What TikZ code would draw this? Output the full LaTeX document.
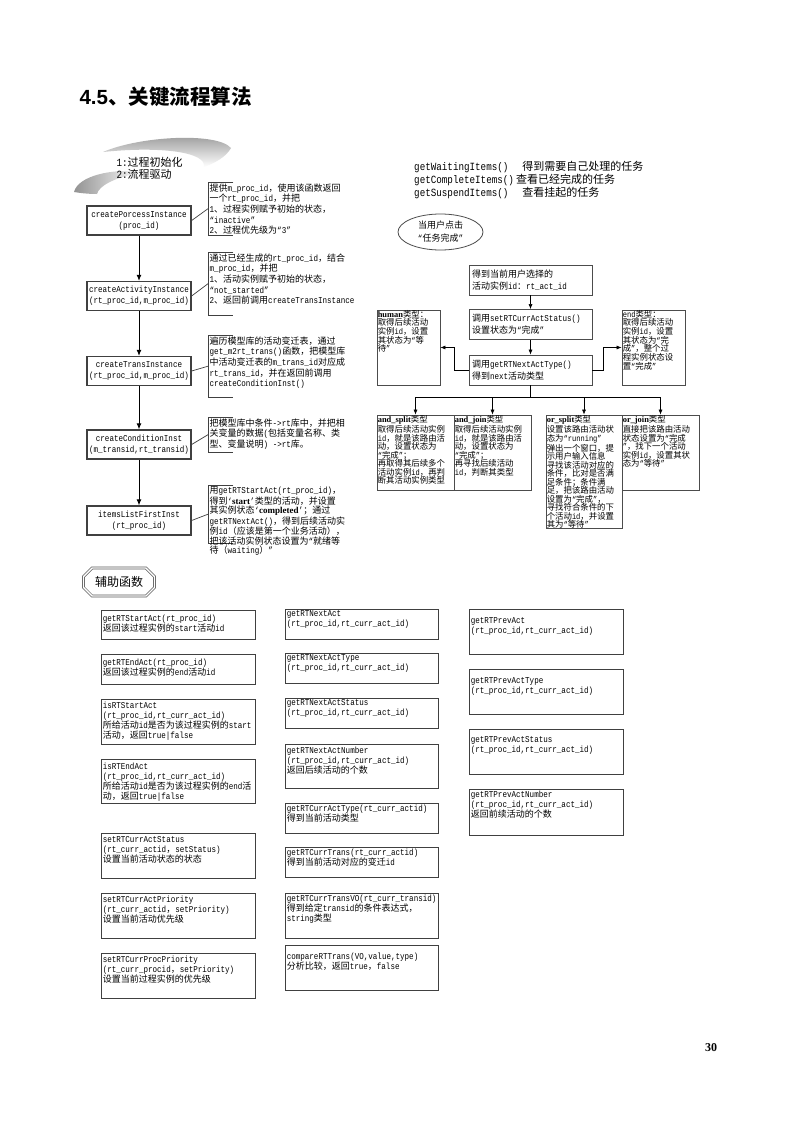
\documentclass[tikz,border=0pt]{standalone}
\usepackage{fontspec}
\setmainfont{Liberation Mono}[FakeStretch=0.84]
\newfontfamily\cjkfont{Noto Sans CJK SC}
\newfontfamily\latinfont{Liberation Mono}[FakeStretch=0.84]
\newfontfamily\headfont{Liberation Sans}
\newfontfamily\bserif{Liberation Serif}
\usetikzlibrary{arrows.meta,shapes.geometric,shapes.misc,calc,positioning}

% CJK runs get their own font, Latin runs go back to mono
\newXeTeXintercharclass\cjkclass
\newcommand\setcharclass[3]{\count255=#1\relax
  \loop\XeTeXcharclass\count255=#3\relax
  \ifnum\count255<#2\relax\advance\count255 by 1\relax\repeat}
\setcharclass{"3000}{"303F}{\cjkclass}
\setcharclass{"4E00}{"9FFF}{\cjkclass}
\setcharclass{"FF00}{"FFEF}{\cjkclass}
\setcharclass{"21}{"7E}{0}
\setcharclass{"2018}{"201D}{0}
\XeTeXinterchartoks 0 \cjkclass = {\cjkfont}
\XeTeXinterchartoks 4095 \cjkclass = {\cjkfont}
\XeTeXinterchartoks \cjkclass 0 = {\latinfont}
\XeTeXinterchartoks \cjkclass 4095 = {\latinfont}
\XeTeXinterchartokenstate=1

\begin{document}
\begin{tikzpicture}[x=1pt,y=-1pt,
  flowbox/.style={draw=black!75,line width=1.3pt,align=center,minimum width=104pt,minimum height=29pt,inner sep=1pt,font=\fontsize{9}{11}\selectfont},
  larr/.style={-{Latex[length=6pt,width=5pt]},line width=0.9pt},
  brk/.style={minimum width=25pt,inner sep=0pt,anchor=north west},
  brkline/.style={draw=black!75,line width=0.7pt},
  note/.style={anchor=north west,align=left,inner sep=1.5pt,font=\fontsize{9}{10.6}\selectfont},
  rbox/.style={draw=black!70,line width=0.8pt,align=left,text width=117pt,minimum height=30pt,inner sep=3pt,font=\fontsize{9}{12}\selectfont},
  tbox/.style={draw=black!70,line width=0.8pt,inner sep=0pt},
  ttext/.style={anchor=north west,align=left,inner sep=1pt,font=\fontsize{8.4}{8.5}\selectfont},
  rarr/.style={-{Latex[length=5pt,width=4pt]},line width=0.6pt},
  fbox/.style={draw=black!75,line width=0.9pt,inner sep=0pt},
  ftext/.style={anchor=north west,align=left,inner sep=2pt,font=\fontsize{9}{10}\selectfont}]
\path[fill=white,use as bounding box] (0,0) rectangle (792,1121);

\node[anchor=west,font=\headfont\bfseries\fontsize{20.5}{23}\selectfont] at (76,97) (title) {4.5、关键流程算法};
\node[font=\bserif\bfseries\fontsize{12}{14}\selectfont] at (711,1048) (pagenum) {30};

% banner
\shade[top color=gray!85,bottom color=white] (103,152) .. controls (140,136) and (217,132) .. (231,148) .. controls (226,157) and (215,163) .. (204,167) .. controls (207,152) and (160,146) .. cycle;
\shade[left color=gray!85,right color=white] (74,192) .. controls (78,176) and (112,168) .. (142,172) .. controls (113,178) and (99,186) .. (97,194) .. controls (88,194) and (80,193) .. cycle;
\node[anchor=west,align=left,font=\fontsize{11}{11.5}\selectfont] at (113,168.5) (stages) {1:过程初始化\\2:流程驱动};

% left flow
\node[flowbox] at (139,220.5) (cpi) {createPorcessInstance\\(proc\_id)};
\node[flowbox] at (139,296) (cai) {createActivityInstance\\(rt\_proc\_id,m\_proc\_id)};
\node[flowbox] at (139,371) (cti) {createTransInstance\\(rt\_proc\_id,m\_proc\_id)};
\node[flowbox] at (139,444.5) (cci) {createConditionInst\\(m\_transid,rt\_transid)};
\node[flowbox] at (139,520.5) (ilf) {itemsListFirstInst\\(rt\_proc\_id)};
\draw[larr] (cpi) -- (cai);
\draw[larr] (cai) -- (cti);
\draw[larr] (cti) -- (cci);
\draw[larr] (cci) -- (ilf);

\node[brk,minimum height=53pt] at (208,182) (b1) {};
\node[brk,minimum height=63pt] at (208,252) (b2) {};
\node[brk,minimum height=62pt] at (208,335) (b3) {};
\node[brk,minimum height=35pt] at (208,417) (b4) {};
\node[brk,minimum height=58pt] at (208,485) (b5) {};
\foreach \b in {b1,b2,b3,b4,b5}
  \draw[brkline] (\b.north east) -- (\b.north west) -- (\b.south west) -- (\b.south east);
\draw[brkline] (cpi.east) -- (b1.west);
\draw[brkline] (cai.east) -- (b2.west);
\draw[brkline] (cti.east) -- (b3.west);
\draw[brkline] (cci.east) -- (b4.west);
\draw[brkline] (ilf.east) -- (b5.west);

\node[note] at (b1.north west) (n1) {提供m\_proc\_id，使用该函数返回\\一个rt\_proc\_id，并把\\1、过程实例赋予初始的状态，\\“inactive”\\2、过程优先级为“3”};
\node[note] at (b2.north west) (n2) {通过已经生成的rt\_proc\_id，结合\\m\_proc\_id，并把\\1、活动实例赋予初始的状态，\\“not\_started”\\2、返回前调用createTransInstance};
\node[note] at (b3.north west) (n3) {遍历模型库的活动变迁表，通过\\get\_m2rt\_trans()函数，把模型库\\中活动变迁表的m\_trans\_id对应成\\rt\_trans\_id，并在返回前调用\\createConditionInst()};
\node[note] at (b4.north west) (n4) {把模型库中条件->rt库中，并把相\\关变量的数据(包括变量名称、类\\型、变量说明) ->rt库。};
\node[note,font=\fontsize{9}{7.6}\selectfont] at (b5.north west) (n5) {用getRTStartAct(rt\_proc\_id)，\\得到‘{\bserif\bfseries start}’类型的活动，并设置\\其实例状态‘{\bserif\bfseries completed}’；通过\\getRTNextAct()，得到后续活动实\\例id（应该是第一个业务活动），\\把该活动实例状态设置为“就绪等\\待（waiting）”};

% right flow
\node[anchor=north west,align=left,inner sep=0pt,font=\fontsize{11}{13}\selectfont] at (414,161) (api) {getWaitingItems()\hspace{14pt}得到需要自己处理的任务\\getCompleteItems()\hspace{2pt}查看已经完成的任务\\getSuspendItems()\hspace{14pt}查看挂起的任务};
\node[ellipse,draw=black!70,line width=0.8pt,minimum width=85pt,minimum height=36pt,align=center,inner sep=0pt,font=\fontsize{9}{13}\selectfont] at (440.5,232) (click) {当用户点击\\“任务完成”};

\node[rbox] at (530.5,280) (sel) {得到当前用户选择的\\活动实例id：rt\_act\_id};
\node[rbox] at (530.5,324.5) (setst) {调用setRTCurrActStatus()\\设置状态为“完成”};
\node[rbox] at (530.5,370) (nexttype) {调用getRTNextActType()\\得到next活动类型};
\draw[rarr] (sel) -- (setst);
\draw[rarr] (setst) -- (nexttype);

\node[tbox,minimum width=63pt,minimum height=75pt] at (408.5,347.5) (human) {};
\node[ttext,font=\fontsize{8.4}{7.8}\selectfont] at (human.north west) (human-t) {{\bserif\bfseries human}类型：\\取得后续活动\\实例id，设置\\其状态为“等\\待”};
\node[tbox,minimum width=63pt,minimum height=75pt] at (653.5,347.5) (endt) {};
\node[ttext,font=\fontsize{8.4}{7.8}\selectfont] at (endt.north west) (endt-t) {end类型：\\取得后续活动\\实例id，设置\\其状态为“完\\成”，整个过\\程实例状态设\\置“完成”};
\draw[rarr] (nexttype.west) -- ++(-14,0) |- (human.east);
\draw[rarr] (nexttype.east) -- ++(11,0) |- (endt.west);

\node[tbox,minimum width=77pt,minimum height=75pt] at (415.5,452.5) (asplit) {};
\node[tbox,minimum width=77pt,minimum height=75pt] at (492.5,452.5) (ajoin) {};
\node[tbox,minimum width=76pt,minimum height=113pt] at (584,471.5) (osplit) {};
\node[tbox,minimum width=77pt,minimum height=75pt] at (660.5,452.5) (ojoin) {};
\node[ttext] at (asplit.north west) (asplit-t) {{\bserif\bfseries and\_split}类型\\取得后续活动实例\\id，就是该路由活\\动，设置状态为\\“完成”；\\再取得其后续多个\\活动实例id，再判\\断其活动实例类型};
\node[ttext] at (ajoin.north west) (ajoin-t) {{\bserif\bfseries and\_join}类型\\取得后续活动实例\\id，就是该路由活\\动，设置状态为\\“完成”；\\再寻找后续活动\\id，判断其类型};
\node[ttext] at (osplit.north west) (osplit-t) {{\bserif\bfseries or\_split}类型\\设置该路由活动状\\态为“running”\\弹出一个窗口，提\\示用户输入信息\\寻找该活动对应的\\条件，比对是否满\\足条件；条件满\\足，把该路由活动\\设置为“完成”，\\寻找符合条件的下\\个活动id，并设置\\其为“等待”};
\node[ttext] at (ojoin.north west) (ojoin-t) {{\bserif\bfseries or\_join}类型\\直接把该路由活动\\状态设置为“完成\\”，找下一个活动\\实例id，设置其状\\态为“等待”};
\draw[line width=0.6pt] (nexttype.south) -- ++(0,12) coordinate (fork);
\draw[line width=0.6pt] (fork -| asplit) -- (fork -| ojoin);
\foreach \t in {asplit,ajoin,osplit,ojoin}
  \draw[rarr] (fork -| \t) -- (\t.north);

% helper functions
\node[chamfered rectangle,chamfered rectangle xsep=5pt,draw=black!65,line width=0.7pt,double=white,double distance=1.4pt,minimum width=71pt,minimum height=28pt,inner sep=1pt,font=\fontsize{12}{14}\selectfont] at (119,582) (aux) {辅助函数};

\node[fbox,minimum width=154pt,minimum height=29pt] at (178,624.5) (gsa) {};
\node[fbox,minimum width=154pt,minimum height=30pt] at (178,669) (gea) {};
\node[fbox,minimum width=154pt,minimum height=45pt] at (178,721.5) (isa) {};
\node[fbox,minimum width=154pt,minimum height=44pt] at (178,781) (iea) {};
\node[fbox,minimum width=154pt,minimum height=45pt] at (178,855.5) (scas) {};
\node[fbox,minimum width=154pt,minimum height=45pt] at (178,915.5) (scap) {};
\node[fbox,minimum width=154pt,minimum height=45pt] at (178,975.5) (scpp) {};
\node[ftext,yshift=-3pt] at (gsa.north west) (gsa-t) {getRTStartAct(rt\_proc\_id)\\返回该过程实例的start活动id};
\node[ftext,yshift=-3pt] at (gea.north west) (gea-t) {getRTEndAct(rt\_proc\_id)\\返回该过程实例的end活动id};
\node[ftext,yshift=-1pt] at (isa.north west) (isa-t) {isRTStartAct\\(rt\_proc\_id,rt\_curr\_act\_id)\\所给活动id是否为该过程实例的start\\活动，返回true|false};
\node[ftext,yshift=-2pt] at (iea.north west) (iea-t) {isRTEndAct\\(rt\_proc\_id,rt\_curr\_act\_id)\\所给活动id是否为该过程实例的end活\\动，返回true|false};
\node[ftext,yshift=-2pt] at (scas.north west) (scas-t) {setRTCurrActStatus\\(rt\_curr\_actid，setStatus)\\设置当前活动状态的状态};
\node[ftext,yshift=-1pt] at (scap.north west) (scap-t) {setRTCurrActPriority\\(rt\_curr\_actid，setPriority)\\设置当前活动优先级};
\node[ftext,yshift=-1pt] at (scpp.north west) (scpp-t) {setRTCurrProcPriority\\(rt\_curr\_procid，setPriority)\\设置当前过程实例的优先级};

\node[fbox,minimum width=153pt,minimum height=30pt] at (361.5,624) (gna) {};
\node[fbox,minimum width=153pt,minimum height=30pt] at (361.5,668) (gnat) {};
\node[fbox,minimum width=153pt,minimum height=30pt] at (361.5,713) (gnas) {};
\node[fbox,minimum width=153pt,minimum height=44pt] at (361.5,766) (gnan) {};
\node[fbox,minimum width=153pt,minimum height=30pt] at (361.5,818) (gcat) {};
\node[fbox,minimum width=153pt,minimum height=30pt] at (361.5,862) (gct) {};
\node[fbox,minimum width=153pt,minimum height=45pt] at (361.5,915.5) (gctv) {};
\node[fbox,minimum width=153pt,minimum height=45pt] at (361.5,967.5) (crt) {};
\node[ftext] at (gna.north west) (gna-t) {getRTNextAct\\(rt\_proc\_id,rt\_curr\_act\_id)};
\node[ftext] at (gnat.north west) (gnat-t) {getRTNextActType\\(rt\_proc\_id,rt\_curr\_act\_id)};
\node[ftext] at (gnas.north west) (gnas-t) {getRTNextActStatus\\(rt\_proc\_id,rt\_curr\_act\_id)};
\node[ftext,yshift=-1pt] at (gnan.north west) (gnan-t) {getRTNextActNumber\\(rt\_proc\_id,rt\_curr\_act\_id)\\返回后续活动的个数};
\node[ftext] at (gcat.north west) (gcat-t) {getRTCurrActType(rt\_curr\_actid)\\得到当前活动类型};
\node[ftext] at (gct.north west) (gct-t) {getRTCurrTrans(rt\_curr\_actid)\\得到当前活动对应的变迁id};
\node[ftext] at (gctv.north west) (gctv-t) {getRTCurrTransVO(rt\_curr\_transid)\\得到给定transid的条件表达式，\\string类型};
\node[ftext,yshift=-6pt] at (crt.north west) (crt-t) {compareRTTrans(VO,value,type)\\分析比较，返回true，false};

\node[fbox,minimum width=154pt,minimum height=45pt] at (546,631.5) (gpa) {};
\node[fbox,minimum width=154pt,minimum height=45pt] at (546,691.5) (gpat) {};
\node[fbox,minimum width=154pt,minimum height=45pt] at (546,751.5) (gpas) {};
\node[fbox,minimum width=154pt,minimum height=46pt] at (546,812) (gpan) {};
\node[ftext,yshift=-7pt] at (gpa.north west) (gpa-t) {getRTPrevAct\\(rt\_proc\_id,rt\_curr\_act\_id)};
\node[ftext,yshift=-7pt] at (gpat.north west) (gpat-t) {getRTPrevActType\\(rt\_proc\_id,rt\_curr\_act\_id)};
\node[ftext,yshift=-6pt] at (gpas.north west) (gpas-t) {getRTPrevActStatus\\(rt\_proc\_id,rt\_curr\_act\_id)};
\node[ftext] at (gpan.north west) (gpan-t) {getRTPrevActNumber\\(rt\_proc\_id,rt\_curr\_act\_id)\\返回前续活动的个数};
\end{tikzpicture}
\end{document}
